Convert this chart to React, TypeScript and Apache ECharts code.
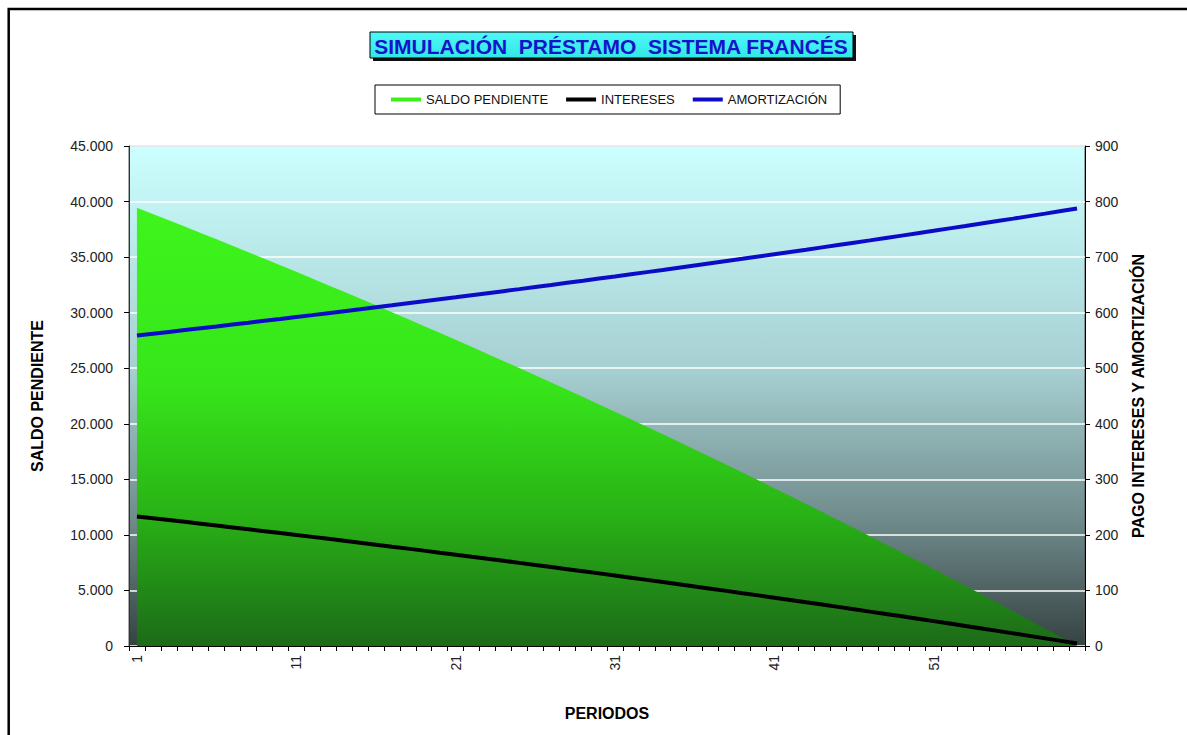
import React, { useEffect, useRef } from "react";
import * as echarts from "echarts";

const periodos = [
  "1","2","3","4","5","6","7","8","9","10","11","12","13","14","15","16","17","18","19","20",
  "21","22","23","24","25","26","27","28","29","30","31","32","33","34","35","36","37","38","39","40",
  "41","42","43","44","45","46","47","48","49","50","51","52","53","54","55","56","57","58","59","60",
];

const saldoPendiente = [
  39441, 38879, 38314, 37746, 37174, 36598, 36020, 35438, 34853, 34264,
  33672, 33076, 32477, 31874, 31268, 30659, 30045, 29429, 28808, 28184,
  27557, 26925, 26290, 25652, 25009, 24363, 23713, 23059, 22402, 21741,
  21075, 20406, 19733, 19056, 18375, 17691, 17002, 16309, 15612, 14911,
  14206, 13497, 12783, 12066, 11344, 10618, 9888, 9154, 8415, 7672,
  6925, 6173, 5417, 4657, 3892, 3123, 2349, 1570, 788, 0,
];

const intereses = [
  233.3, 230.1, 226.8, 223.5, 220.2, 216.8, 213.5, 210.1, 206.7, 203.3,
  199.9, 196.4, 192.9, 189.4, 185.9, 182.4, 178.8, 175.3, 171.7, 168.0,
  164.4, 160.7, 157.1, 153.4, 149.6, 145.9, 142.1, 138.3, 134.5, 130.7,
  126.8, 122.9, 119.0, 115.1, 111.2, 107.2, 103.2, 99.2, 95.1, 91.1,
  87.0, 82.9, 78.7, 74.6, 70.4, 66.2, 61.9, 57.7, 53.4, 49.1,
  44.8, 40.4, 36.0, 31.6, 27.2, 22.7, 18.2, 13.7, 9.2, 4.6,
];

const amortizacion = [
  558.7, 562.0, 565.3, 568.6, 571.9, 575.2, 578.6, 581.9, 585.3, 588.7,
  592.2, 595.6, 599.1, 602.6, 606.1, 609.7, 613.2, 616.8, 620.4, 624.0,
  627.6, 631.3, 635.0, 638.7, 642.4, 646.2, 649.9, 653.7, 657.5, 661.4,
  665.2, 669.1, 673.0, 676.9, 680.9, 684.9, 688.9, 692.9, 696.9, 701.0,
  705.1, 709.2, 713.3, 717.5, 721.7, 725.9, 730.1, 734.4, 738.7, 743.0,
  747.3, 751.7, 756.0, 760.5, 764.9, 769.3, 773.8, 778.3, 782.9, 787.5,
];

const FONT = "'Liberation Sans', Arial, Helvetica, sans-serif";
const GREEN = "#3cee1a";
const BLUE = "#0c0cc8";

const fmtThousands = (v: number) =>
  String(Math.round(v)).replace(/\B(?=(\d{3})+(?!\d))/g, ".");

export default function App() {
  const ref = useRef<HTMLDivElement>(null);

  useEffect(() => {
    if (!ref.current) return;
    const chart = echarts.init(ref.current, null, { renderer: "svg" });
    chart.setOption({
      animation: false,
      backgroundColor: "#ffffff",
      textStyle: { fontFamily: FONT },
      graphic: [
        {
          type: "rect",
          z: 0,
          shape: { x: 8.7, y: 9, width: 1400, height: 900 },
          style: { fill: "none", stroke: "#000", lineWidth: 2.5 },
        },
        {
          type: "rect",
          z: 1,
          shape: { x: 373, y: 35, width: 483, height: 26 },
          style: { fill: "#111" },
        },
        {
          type: "rect",
          z: 2,
          shape: { x: 370, y: 32, width: 483, height: 26 },
          style: {
            fill: new echarts.graphic.LinearGradient(0, 0, 0, 1, [
              { offset: 0, color: "#4ef8f8" },
              { offset: 1, color: "#33e6e6" },
            ]),
            stroke: "#000",
            lineWidth: 1,
          },
        },
        {
          type: "text",
          z: 3,
          x: 611,
          y: 46,
          style: {
            text: "SIMULACIÓN  PRÉSTAMO  SISTEMA FRANCÉS",
            fill: "#1414c8",
            font: `bold 21px ${FONT}`,
            textAlign: "center",
            textVerticalAlign: "middle",
          },
        },
      ],
      legend: {
        left: 375,
        top: 85,
        padding: [8, 13, 8, 16],
        backgroundColor: "#fff",
        borderColor: "#000",
        borderWidth: 1,
        itemWidth: 30,
        itemHeight: 4,
        itemGap: 18,
        textStyle: { fontSize: 13, color: "#111", fontFamily: FONT },
        data: [
          { name: "SALDO PENDIENTE", icon: "rect", itemStyle: { color: GREEN } },
          { name: "INTERESES", icon: "rect", itemStyle: { color: "#000" } },
          { name: "AMORTIZACIÓN", icon: "rect", itemStyle: { color: BLUE } },
        ],
      },
      grid: {
        left: 129,
        right: 102,
        top: 146,
        bottom: 89,
        show: true,
        borderColor: "#555",
        borderWidth: 1,
        backgroundColor: new echarts.graphic.LinearGradient(0, 0, 0, 1, [
          { offset: 0, color: "#ccffff" },
          { offset: 0.45, color: "#a6cfd1" },
          { offset: 0.75, color: "#6f8a8b" },
          { offset: 1, color: "#364242" },
        ]),
      },
      xAxis: {
        type: "category",
        data: periodos,
        boundaryGap: true,
        name: "PERIODOS",
        nameLocation: "middle",
        nameGap: 59,
        nameTextStyle: { fontWeight: "bold", fontSize: 16, color: "#000", fontFamily: FONT },
        axisLine: { lineStyle: { color: "#000", width: 1 } },
        axisTick: { show: true, interval: 0, length: 5, lineStyle: { color: "#000" } },
        axisLabel: {
          interval: 9,
          rotate: 90,
          margin: 9,
          fontSize: 14,
          color: "#222",
          fontFamily: FONT,
        },
        splitLine: { show: false },
      },
      yAxis: [
        {
          type: "value",
          min: 0,
          max: 45000,
          interval: 5000,
          position: "left",
          name: "SALDO PENDIENTE",
          nameLocation: "middle",
          nameGap: 84,
          nameTextStyle: { fontWeight: "bold", fontSize: 16, color: "#000", fontFamily: FONT },
          axisLine: { show: true, lineStyle: { color: "#333", width: 1 } },
          axisTick: { show: true, length: 5, lineStyle: { color: "#000" } },
          axisLabel: {
            formatter: fmtThousands,
            margin: 16,
            fontSize: 14,
            color: "#222",
            fontFamily: FONT,
          },
          splitLine: { show: true, lineStyle: { color: "#ffffff", width: 1.5 } },
        },
        {
          type: "value",
          min: 0,
          max: 900,
          interval: 100,
          position: "right",
          name: "PAGO INTERESES Y AMORTIZACIÓN",
          nameLocation: "middle",
          nameGap: 45,
          nameTextStyle: { fontWeight: "bold", fontSize: 16, color: "#000", fontFamily: FONT },
          axisLine: { show: true, lineStyle: { color: "#000", width: 1 } },
          axisTick: { show: true, length: 5, lineStyle: { color: "#000" } },
          axisLabel: { margin: 10, fontSize: 14, color: "#222", fontFamily: FONT },
          splitLine: { show: false },
        },
      ],
      series: [
        {
          name: "SALDO PENDIENTE",
          type: "line",
          yAxisIndex: 0,
          data: saldoPendiente,
          showSymbol: false,
          symbol: "none",
          color: GREEN,
          lineStyle: { width: 0, color: GREEN },
          areaStyle: {
            opacity: 1,
            color: new echarts.graphic.LinearGradient(0, 0, 0, 1, [
              { offset: 0, color: "#3ef51c" },
              { offset: 0.4, color: "#37e61a" },
              { offset: 0.7, color: "#29b216" },
              { offset: 1, color: "#1c6a18" },
            ]),
          },
          z: 2,
        },
        {
          name: "INTERESES",
          type: "line",
          yAxisIndex: 1,
          data: intereses,
          showSymbol: false,
          symbol: "none",
          color: "#000",
          lineStyle: { width: 4, color: "#000" },
          z: 3,
        },
        {
          name: "AMORTIZACIÓN",
          type: "line",
          yAxisIndex: 1,
          data: amortizacion,
          showSymbol: false,
          symbol: "none",
          color: BLUE,
          lineStyle: { width: 4, color: BLUE },
          z: 4,
        },
      ],
    });
    return () => chart.dispose();
  }, []);

  return (
    <div
      ref={ref}
      style={{ position: "fixed", left: 0, top: 0, width: 1187, height: 735 }}
    />
  );
}
